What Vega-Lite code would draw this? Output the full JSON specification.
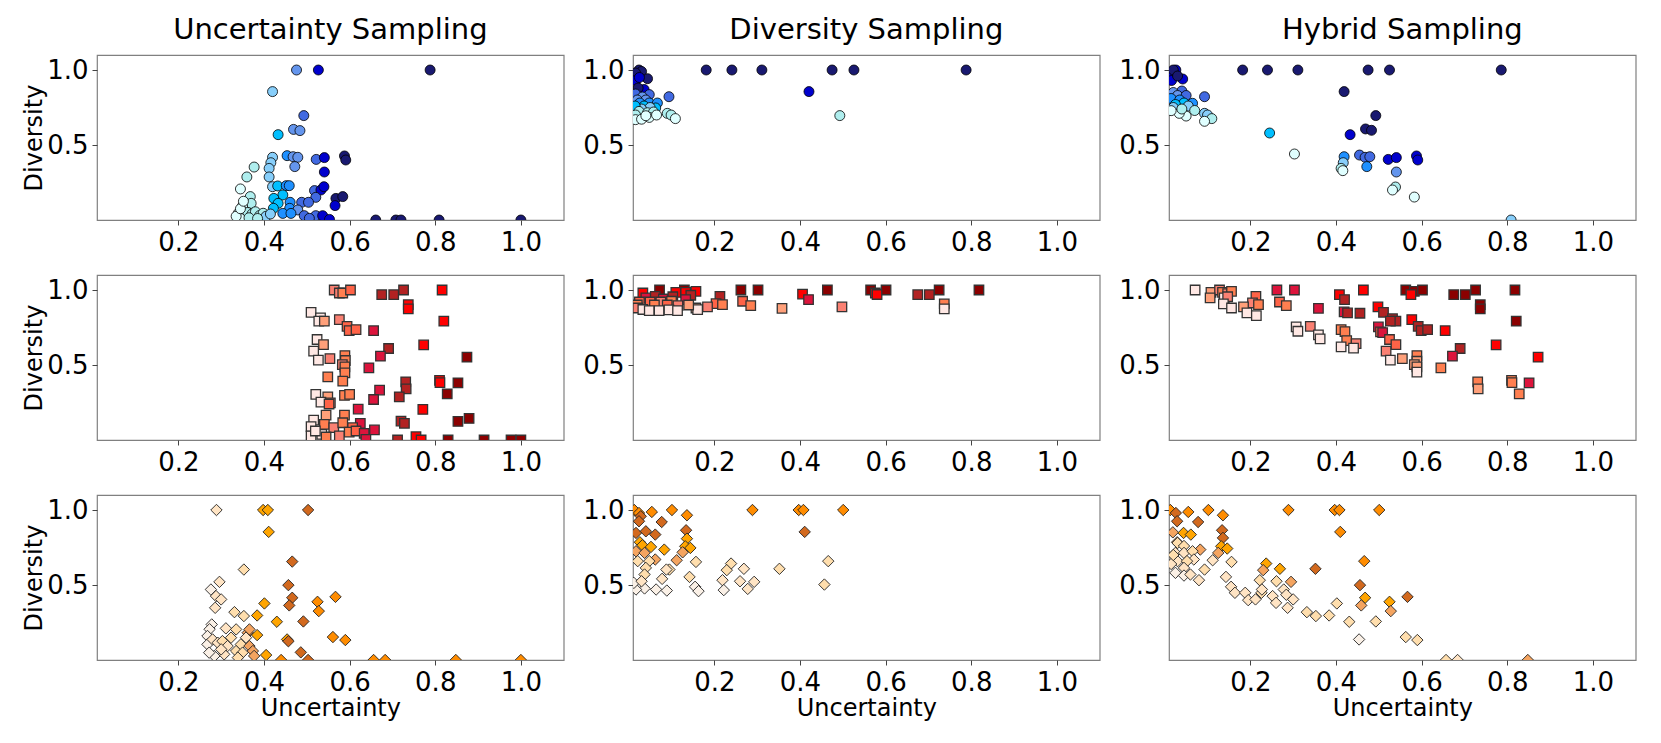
{
  "$schema": "https://vega.github.io/schema/vega-lite/v6.json",
  "padding": {"left": 22, "top": 15, "right": 5, "bottom": 5},
  "background": "white",
  "config": {
    "font": "DejaVu Sans",
    "view": {"stroke": "#808080", "strokeWidth": 1.2},
    "axis": {"grid": false, "domain": false, "labelFont": "DejaVu Sans", "labelFontSize": 26, "labelColor": "#000", "tickColor": "#444", "tickSize": 5, "labelPadding": 4, "titleFont": "DejaVu Sans", "titleFontSize": 24, "titleFontWeight": "normal", "titleColor": "#000", "labelFlush": false},
    "axisX": {"titlePadding": 1},
    "axisY": {"titlePadding": 0},
    "title": {"font": "DejaVu Sans", "fontSize": 29, "fontWeight": "normal", "color": "#000", "anchor": "middle", "offset": 10, "baseline": "alphabetic"}
  },
  "datasets": {
    "b_u": [
      {"u":0.476,"v":1.0,"k":5},{"u":0.527,"v":1.0,"k":7},{"u":0.788,"v":1.0,"k":8},{"u":0.420,"v":0.856,"k":2},
      {"u":0.493,"v":0.696,"k":6},{"u":0.469,"v":0.604,"k":5},{"u":0.484,"v":0.596,"k":5},{"u":0.433,"v":0.569,"k":3},
      {"u":0.420,"v":0.418,"k":2},{"u":0.454,"v":0.429,"k":4},{"u":0.468,"v":0.422,"k":5},{"u":0.479,"v":0.418,"k":5},
      {"u":0.522,"v":0.404,"k":6},{"u":0.541,"v":0.416,"k":7},{"u":0.588,"v":0.427,"k":8},{"u":0.591,"v":0.400,"k":8},
      {"u":0.416,"v":0.382,"k":2},{"u":0.472,"v":0.356,"k":5},{"u":0.377,"v":0.353,"k":1},{"u":0.412,"v":0.344,"k":2},
      {"u":0.541,"v":0.320,"k":7},{"u":0.360,"v":0.287,"k":1},{"u":0.412,"v":0.287,"k":2},{"u":0.345,"v":0.207,"k":0},
      {"u":0.420,"v":0.222,"k":2},{"u":0.432,"v":0.227,"k":3},{"u":0.452,"v":0.229,"k":4},{"u":0.459,"v":0.229,"k":4},
      {"u":0.518,"v":0.196,"k":6},{"u":0.533,"v":0.200,"k":7},{"u":0.540,"v":0.222,"k":7},{"u":0.444,"v":0.167,"k":3},
      {"u":0.423,"v":0.144,"k":3},{"u":0.368,"v":0.156,"k":1},{"u":0.521,"v":0.151,"k":6},{"u":0.568,"v":0.144,"k":8},
      {"u":0.584,"v":0.156,"k":8},{"u":0.370,"v":0.111,"k":1},{"u":0.350,"v":0.093,"k":0},{"u":0.461,"v":0.118,"k":4},
      {"u":0.488,"v":0.118,"k":6},{"u":0.504,"v":0.118,"k":6},{"u":0.433,"v":0.111,"k":3},{"u":0.566,"v":0.096,"k":7},
      {"u":0.422,"v":0.078,"k":3},{"u":0.460,"v":0.078,"k":4},{"u":0.479,"v":0.067,"k":5},{"u":0.444,"v":0.044,"k":4},
      {"u":0.463,"v":0.044,"k":4},{"u":0.494,"v":0.029,"k":6},{"u":0.521,"v":0.029,"k":6},{"u":0.537,"v":0.029,"k":7},
      {"u":0.506,"v":0.011,"k":6},{"u":0.553,"v":0.004,"k":7},{"u":0.661,"v":0.0,"k":8},{"u":0.708,"v":0.0,"k":8},
      {"u":0.720,"v":0.0,"k":8},{"u":0.809,"v":0.0,"k":8},{"u":1.0,"v":0.0,"k":8},
      {"u":0.340,"v":0.045,"k":0},{"u":0.348,"v":0.060,"k":0},{"u":0.355,"v":0.030,"k":0},{"u":0.362,"v":0.050,"k":1},
      {"u":0.372,"v":0.040,"k":1},{"u":0.380,"v":0.055,"k":1},{"u":0.390,"v":0.030,"k":1},{"u":0.398,"v":0.045,"k":1},
      {"u":0.405,"v":0.025,"k":2},{"u":0.345,"v":0.010,"k":0},{"u":0.365,"v":0.015,"k":1},{"u":0.385,"v":0.010,"k":1},
      {"u":0.335,"v":0.025,"k":0},{"u":0.415,"v":0.040,"k":2},{"u":0.345,"v":0.075,"k":0},{"u":0.352,"v":0.125,"k":0}
    ],
    "b_d": [
      {"u":0.181,"v":1.0,"k":8},{"u":0.241,"v":1.0,"k":8},{"u":0.311,"v":1.0,"k":8},{"u":0.475,"v":1.0,"k":8},
      {"u":0.526,"v":1.0,"k":8},{"u":0.788,"v":1.0,"k":8},{"u":0.421,"v":0.856,"k":7},{"u":0.493,"v":0.696,"k":1},
      {"u":0.024,"v":1.0,"k":8},{"u":0.030,"v":0.99,"k":8},{"u":0.016,"v":0.98,"k":8},{"u":0.044,"v":0.942,"k":8},
      {"u":0.016,"v":0.93,"k":7},{"u":0.025,"v":0.95,"k":7},{"u":0.036,"v":0.87,"k":7},{"u":0.022,"v":0.88,"k":8},
      {"u":0.048,"v":0.836,"k":6},{"u":0.094,"v":0.822,"k":6},{"u":0.016,"v":0.84,"k":6},{"u":0.032,"v":0.82,"k":5},
      {"u":0.020,"v":0.80,"k":5},{"u":0.040,"v":0.80,"k":5},{"u":0.026,"v":0.78,"k":4},{"u":0.048,"v":0.78,"k":4},
      {"u":0.067,"v":0.78,"k":4},{"u":0.063,"v":0.747,"k":3},{"u":0.036,"v":0.76,"k":3},{"u":0.050,"v":0.75,"k":2},
      {"u":0.030,"v":0.74,"k":2},{"u":0.015,"v":0.76,"k":3},{"u":0.024,"v":0.724,"k":1},{"u":0.044,"v":0.715,"k":1},
      {"u":0.058,"v":0.72,"k":1},{"u":0.016,"v":0.70,"k":1},{"u":0.090,"v":0.711,"k":1},{"u":0.099,"v":0.700,"k":1},
      {"u":0.016,"v":0.669,"k":0},{"u":0.030,"v":0.672,"k":0},{"u":0.048,"v":0.684,"k":0},{"u":0.109,"v":0.676,"k":0},
      {"u":0.065,"v":0.70,"k":0},{"u":0.040,"v":0.695,"k":0}
    ],
    "b_h": [
      {"u":0.182,"v":1.0,"k":8},{"u":0.240,"v":1.0,"k":8},{"u":0.311,"v":1.0,"k":8},{"u":0.475,"v":1.0,"k":8},
      {"u":0.525,"v":1.0,"k":8},{"u":0.786,"v":1.0,"k":8},{"u":0.419,"v":0.856,"k":8},{"u":0.493,"v":0.696,"k":8},
      {"u":0.469,"v":0.607,"k":8},{"u":0.483,"v":0.598,"k":8},{"u":0.433,"v":0.569,"k":7},{"u":0.245,"v":0.580,"k":3},
      {"u":0.303,"v":0.440,"k":0},{"u":0.419,"v":0.422,"k":4},{"u":0.455,"v":0.433,"k":6},{"u":0.468,"v":0.418,"k":6},
      {"u":0.479,"v":0.422,"k":6},{"u":0.522,"v":0.404,"k":7},{"u":0.541,"v":0.416,"k":7},{"u":0.588,"v":0.427,"k":7},
      {"u":0.591,"v":0.400,"k":7},{"u":0.417,"v":0.382,"k":2},{"u":0.472,"v":0.356,"k":4},{"u":0.412,"v":0.344,"k":1},
      {"u":0.416,"v":0.329,"k":0},{"u":0.541,"v":0.320,"k":5},{"u":0.539,"v":0.220,"k":1},{"u":0.532,"v":0.200,"k":0},
      {"u":0.583,"v":0.153,"k":0},{"u":0.809,"v":0.0,"k":2},
      {"u":0.026,"v":1.0,"k":7},{"u":0.018,"v":0.978,"k":7},{"u":0.042,"v":0.94,"k":7},{"u":0.016,"v":0.93,"k":7},
      {"u":0.020,"v":1.0,"k":8},{"u":0.030,"v":0.96,"k":8},{"u":0.093,"v":0.822,"k":6},{"u":0.040,"v":0.86,"k":6},
      {"u":0.020,"v":0.85,"k":5},{"u":0.030,"v":0.83,"k":5},{"u":0.050,"v":0.83,"k":6},{"u":0.015,"v":0.81,"k":4},
      {"u":0.035,"v":0.80,"k":4},{"u":0.065,"v":0.778,"k":4},{"u":0.045,"v":0.78,"k":3},{"u":0.025,"v":0.77,"k":3},
      {"u":0.055,"v":0.76,"k":2},{"u":0.020,"v":0.75,"k":2},{"u":0.093,"v":0.711,"k":2},{"u":0.100,"v":0.700,"k":2},
      {"u":0.110,"v":0.676,"k":1},{"u":0.093,"v":0.658,"k":0},{"u":0.050,"v":0.693,"k":0},{"u":0.034,"v":0.711,"k":0},
      {"u":0.015,"v":0.729,"k":0},{"u":0.070,"v":0.73,"k":1},{"u":0.040,"v":0.74,"k":1}
    ],
    "r_u": [
      {"u":0.564,"v":1.0,"k":2},{"u":0.576,"v":0.98,"k":2},{"u":0.584,"v":0.98,"k":3},{"u":0.602,"v":1.0,"k":4},
      {"u":0.675,"v":0.969,"k":7},{"u":0.703,"v":0.969,"k":7},{"u":0.726,"v":1.0,"k":7},{"u":0.816,"v":1.0,"k":6},
      {"u":0.737,"v":0.902,"k":6},{"u":0.737,"v":0.874,"k":6},{"u":0.820,"v":0.792,"k":6},{"u":0.510,"v":0.851,"k":0},
      {"u":0.532,"v":0.814,"k":0},{"u":0.528,"v":0.792,"k":0},{"u":0.541,"v":0.792,"k":1},{"u":0.576,"v":0.803,"k":2},
      {"u":0.594,"v":0.758,"k":4},{"u":0.599,"v":0.729,"k":4},{"u":0.615,"v":0.736,"k":4},{"u":0.656,"v":0.729,"k":5},
      {"u":0.524,"v":0.670,"k":0},{"u":0.539,"v":0.636,"k":1},{"u":0.516,"v":0.592,"k":0},{"u":0.527,"v":0.532,"k":0},
      {"u":0.554,"v":0.543,"k":2},{"u":0.589,"v":0.563,"k":3},{"u":0.590,"v":0.530,"k":3},{"u":0.583,"v":0.503,"k":2},
      {"u":0.589,"v":0.488,"k":3},{"u":0.589,"v":0.448,"k":3},{"u":0.549,"v":0.421,"k":3},{"u":0.584,"v":0.392,"k":3},
      {"u":0.691,"v":0.610,"k":7},{"u":0.672,"v":0.559,"k":5},{"u":0.645,"v":0.481,"k":5},{"u":0.773,"v":0.634,"k":6},
      {"u":0.874,"v":0.552,"k":8},{"u":0.731,"v":0.388,"k":7},{"u":0.732,"v":0.341,"k":7},{"u":0.810,"v":0.397,"k":6},
      {"u":0.811,"v":0.383,"k":6},{"u":0.853,"v":0.381,"k":8},{"u":0.828,"v":0.308,"k":8},{"u":0.670,"v":0.333,"k":5},
      {"u":0.716,"v":0.288,"k":7},{"u":0.656,"v":0.270,"k":5},{"u":0.620,"v":0.206,"k":5},{"u":0.771,"v":0.204,"k":6},
      {"u":0.521,"v":0.304,"k":0},{"u":0.549,"v":0.288,"k":1},{"u":0.533,"v":0.253,"k":0},{"u":0.555,"v":0.248,"k":2},
      {"u":0.552,"v":0.240,"k":4},{"u":0.588,"v":0.297,"k":3},{"u":0.600,"v":0.304,"k":3},{"u":0.545,"v":0.166,"k":1},
      {"u":0.588,"v":0.166,"k":3},{"u":0.720,"v":0.126,"k":7},{"u":0.728,"v":0.111,"k":7},{"u":0.625,"v":0.111,"k":5},
      {"u":0.658,"v":0.067,"k":5},{"u":0.853,"v":0.124,"k":8},{"u":0.879,"v":0.144,"k":8},{"u":0.516,"v":0.133,"k":0},
      {"u":0.510,"v":0.089,"k":0},{"u":0.541,"v":0.104,"k":3},{"u":0.563,"v":0.082,"k":2},{"u":0.584,"v":0.115,"k":3},
      {"u":0.607,"v":0.082,"k":4},{"u":0.599,"v":0.053,"k":3},{"u":0.615,"v":0.060,"k":4},{"u":0.634,"v":0.044,"k":5},
      {"u":0.638,"v":0.004,"k":5},{"u":0.576,"v":0.027,"k":2},{"u":0.535,"v":0.038,"k":0},{"u":0.510,"v":0.027,"k":0},
      {"u":0.545,"v":0.020,"k":3},{"u":0.520,"v":0.060,"k":0},{"u":0.755,"v":0.022,"k":6},{"u":0.767,"v":0.0,"k":6},
      {"u":0.712,"v":0.0,"k":7},{"u":0.830,"v":0.0,"k":8},{"u":0.914,"v":0.0,"k":8},{"u":0.977,"v":0.0,"k":8},
      {"u":1.0,"v":0.0,"k":8}
    ],
    "r_d": [
      {"u":0.072,"v":1.0,"k":8},{"u":0.262,"v":1.0,"k":8},{"u":0.302,"v":1.0,"k":8},{"u":0.464,"v":1.0,"k":8},
      {"u":0.565,"v":1.0,"k":8},{"u":0.601,"v":1.0,"k":8},{"u":0.725,"v":1.0,"k":8},{"u":0.818,"v":1.0,"k":8},
      {"u":0.675,"v":0.969,"k":7},{"u":0.702,"v":0.969,"k":7},{"u":0.576,"v":0.980,"k":6},{"u":0.580,"v":0.970,"k":6},
      {"u":0.406,"v":0.973,"k":6},{"u":0.420,"v":0.936,"k":5},{"u":0.213,"v":0.958,"k":7},{"u":0.204,"v":0.909,"k":4},
      {"u":0.219,"v":0.902,"k":3},{"u":0.266,"v":0.925,"k":4},{"u":0.285,"v":0.896,"k":3},{"u":0.358,"v":0.878,"k":1},
      {"u":0.498,"v":0.887,"k":2},{"u":0.737,"v":0.907,"k":3},{"u":0.737,"v":0.874,"k":0},{"u":0.184,"v":0.887,"k":2},
      {"u":0.157,"v":0.880,"k":1},{"u":0.161,"v":0.869,"k":0},{"u":0.033,"v":0.980,"k":6},{"u":0.130,"v":1.0,"k":8},
      {"u":0.110,"v":0.984,"k":6},{"u":0.133,"v":0.984,"k":6},{"u":0.157,"v":0.991,"k":6},{"u":0.145,"v":0.965,"k":7},
      {"u":0.040,"v":0.947,"k":5},{"u":0.062,"v":0.958,"k":7},{"u":0.081,"v":0.940,"k":5},{"u":0.103,"v":0.955,"k":7},
      {"u":0.133,"v":0.936,"k":5},{"u":0.025,"v":0.920,"k":4},{"u":0.050,"v":0.920,"k":4},{"u":0.075,"v":0.920,"k":2},
      {"u":0.100,"v":0.925,"k":3},{"u":0.115,"v":0.896,"k":2},{"u":0.140,"v":0.900,"k":1},{"u":0.060,"v":0.900,"k":3},
      {"u":0.090,"v":0.900,"k":4},{"u":0.020,"v":0.900,"k":3},{"u":0.021,"v":0.880,"k":2},{"u":0.033,"v":0.870,"k":0},
      {"u":0.048,"v":0.862,"k":0},{"u":0.071,"v":0.862,"k":0},{"u":0.094,"v":0.868,"k":0},{"u":0.114,"v":0.862,"k":0}
    ],
    "r_h": [
      {"u":0.071,"v":1.0,"k":0},{"u":0.108,"v":0.984,"k":1},{"u":0.128,"v":1.0,"k":2},{"u":0.135,"v":0.984,"k":3},
      {"u":0.147,"v":0.976,"k":2},{"u":0.156,"v":0.991,"k":3},{"u":0.106,"v":0.947,"k":1},{"u":0.139,"v":0.947,"k":0},
      {"u":0.147,"v":0.955,"k":2},{"u":0.213,"v":0.958,"k":4},{"u":0.205,"v":0.914,"k":2},{"u":0.219,"v":0.902,"k":3},
      {"u":0.137,"v":0.907,"k":0},{"u":0.156,"v":0.880,"k":0},{"u":0.184,"v":0.887,"k":1},{"u":0.192,"v":0.847,"k":0},
      {"u":0.214,"v":0.829,"k":0},{"u":0.262,"v":1.0,"k":5},{"u":0.303,"v":1.0,"k":5},{"u":0.268,"v":0.920,"k":4},
      {"u":0.284,"v":0.896,"k":3},{"u":0.359,"v":0.878,"k":5},{"u":0.408,"v":0.969,"k":6},{"u":0.420,"v":0.936,"k":7},
      {"u":0.464,"v":1.0,"k":6},{"u":0.419,"v":0.854,"k":5},{"u":0.427,"v":0.847,"k":7},{"u":0.456,"v":0.845,"k":7},
      {"u":0.498,"v":0.887,"k":6},{"u":0.511,"v":0.851,"k":7},{"u":0.532,"v":0.809,"k":7},{"u":0.540,"v":0.792,"k":7},
      {"u":0.527,"v":0.792,"k":7},{"u":0.563,"v":1.0,"k":8},{"u":0.583,"v":0.991,"k":8},{"u":0.575,"v":0.969,"k":6},
      {"u":0.602,"v":1.0,"k":8},{"u":0.675,"v":0.969,"k":8},{"u":0.702,"v":0.969,"k":8},{"u":0.726,"v":1.0,"k":8},
      {"u":0.818,"v":1.0,"k":8},{"u":0.737,"v":0.902,"k":8},{"u":0.737,"v":0.874,"k":8},{"u":0.821,"v":0.792,"k":8},
      {"u":0.577,"v":0.803,"k":6},{"u":0.592,"v":0.758,"k":7},{"u":0.599,"v":0.729,"k":7},{"u":0.614,"v":0.736,"k":7},
      {"u":0.655,"v":0.729,"k":6},{"u":0.690,"v":0.610,"k":7},{"u":0.672,"v":0.559,"k":5},{"u":0.774,"v":0.634,"k":6},
      {"u":0.872,"v":0.552,"k":6},{"u":0.810,"v":0.397,"k":3},{"u":0.811,"v":0.383,"k":3},{"u":0.851,"v":0.381,"k":5},
      {"u":0.828,"v":0.308,"k":3},{"u":0.731,"v":0.388,"k":3},{"u":0.732,"v":0.341,"k":1},{"u":0.645,"v":0.481,"k":3},
      {"u":0.499,"v":0.754,"k":5},{"u":0.504,"v":0.721,"k":4},{"u":0.509,"v":0.716,"k":5},{"u":0.525,"v":0.670,"k":4},
      {"u":0.540,"v":0.636,"k":4},{"u":0.517,"v":0.592,"k":2},{"u":0.527,"v":0.532,"k":0},{"u":0.555,"v":0.543,"k":1},
      {"u":0.589,"v":0.563,"k":3},{"u":0.589,"v":0.525,"k":1},{"u":0.583,"v":0.503,"k":1},{"u":0.589,"v":0.488,"k":1},
      {"u":0.589,"v":0.452,"k":0},{"u":0.412,"v":0.736,"k":3},{"u":0.421,"v":0.723,"k":3},{"u":0.425,"v":0.663,"k":3},
      {"u":0.447,"v":0.643,"k":2},{"u":0.441,"v":0.612,"k":0},{"u":0.412,"v":0.621,"k":0},{"u":0.307,"v":0.754,"k":0},
      {"u":0.311,"v":0.725,"k":0},{"u":0.340,"v":0.758,"k":2},{"u":0.359,"v":0.701,"k":0},{"u":0.363,"v":0.674,"k":0}
    ],
    "o_u": [
      {"u":0.289,"v":1.0,"k":1},{"u":0.398,"v":1.0,"k":5},{"u":0.409,"v":1.0,"k":5},{"u":0.411,"v":0.854,"k":5},
      {"u":0.503,"v":1.0,"k":7},{"u":0.466,"v":0.656,"k":7},{"u":0.353,"v":0.603,"k":2},{"u":0.296,"v":0.521,"k":1},
      {"u":0.276,"v":0.470,"k":0},{"u":0.288,"v":0.426,"k":1},{"u":0.300,"v":0.404,"k":1},{"u":0.286,"v":0.348,"k":1},
      {"u":0.457,"v":0.499,"k":7},{"u":0.466,"v":0.415,"k":7},{"u":0.459,"v":0.364,"k":7},{"u":0.401,"v":0.377,"k":5},
      {"u":0.525,"v":0.388,"k":6},{"u":0.528,"v":0.326,"k":6},{"u":0.567,"v":0.421,"k":6},{"u":0.331,"v":0.319,"k":2},
      {"u":0.353,"v":0.293,"k":2},{"u":0.384,"v":0.297,"k":5},{"u":0.430,"v":0.255,"k":5},{"u":0.492,"v":0.257,"k":7},
      {"u":0.278,"v":0.237,"k":0},{"u":0.273,"v":0.205,"k":0},{"u":0.311,"v":0.211,"k":1},{"u":0.335,"v":0.204,"k":2},
      {"u":0.362,"v":0.182,"k":3},{"u":0.384,"v":0.166,"k":5},{"u":0.454,"v":0.137,"k":5},{"u":0.457,"v":0.125,"k":7},
      {"u":0.561,"v":0.153,"k":6},{"u":0.590,"v":0.133,"k":6},{"u":0.405,"v":0.033,"k":5},{"u":0.486,"v":0.051,"k":7},
      {"u":0.440,"v":0.0,"k":6},{"u":0.503,"v":0.0,"k":7},{"u":0.656,"v":0.0,"k":6},{"u":0.683,"v":0.0,"k":6},
      {"u":0.848,"v":0.0,"k":6},{"u":1.0,"v":0.0,"k":6},
      {"u":0.268,"v":0.160,"k":0},{"u":0.268,"v":0.104,"k":0},{"u":0.280,"v":0.137,"k":1},{"u":0.292,"v":0.115,"k":1},
      {"u":0.303,"v":0.126,"k":2},{"u":0.315,"v":0.093,"k":1},{"u":0.323,"v":0.149,"k":2},{"u":0.335,"v":0.060,"k":2},
      {"u":0.346,"v":0.104,"k":2},{"u":0.358,"v":0.149,"k":1},{"u":0.366,"v":0.093,"k":3},{"u":0.374,"v":0.060,"k":3},
      {"u":0.377,"v":0.027,"k":3},{"u":0.350,"v":0.049,"k":2},{"u":0.307,"v":0.038,"k":1},{"u":0.284,"v":0.027,"k":0},
      {"u":0.272,"v":0.049,"k":0},{"u":0.339,"v":0.016,"k":2},{"u":0.366,"v":0.204,"k":3},{"u":0.300,"v":0.071,"k":1}
    ],
    "o_d": [
      {"u":0.101,"v":1.0,"k":6},{"u":0.289,"v":1.0,"k":6},{"u":0.397,"v":1.0,"k":6},{"u":0.408,"v":1.0,"k":6},
      {"u":0.501,"v":1.0,"k":6},{"u":0.411,"v":0.854,"k":7},{"u":0.054,"v":0.987,"k":6},{"u":0.136,"v":0.965,"k":6},
      {"u":0.013,"v":1.0,"k":6},{"u":0.024,"v":0.98,"k":6},{"u":0.028,"v":0.958,"k":7},{"u":0.024,"v":0.925,"k":7},
      {"u":0.077,"v":0.920,"k":7},{"u":0.017,"v":0.847,"k":7},{"u":0.040,"v":0.858,"k":7},{"u":0.062,"v":0.836,"k":7},
      {"u":0.134,"v":0.865,"k":7},{"u":0.136,"v":0.809,"k":5},{"u":0.026,"v":0.785,"k":5},{"u":0.032,"v":0.765,"k":5},
      {"u":0.052,"v":0.754,"k":5},{"u":0.083,"v":0.736,"k":5},{"u":0.132,"v":0.758,"k":5},{"u":0.144,"v":0.747,"k":5},
      {"u":0.017,"v":0.725,"k":3},{"u":0.037,"v":0.714,"k":3},{"u":0.126,"v":0.718,"k":3},{"u":0.112,"v":0.665,"k":3},
      {"u":0.062,"v":0.670,"k":3},{"u":0.021,"v":0.659,"k":2},{"u":0.048,"v":0.659,"k":2},{"u":0.157,"v":0.654,"k":2},
      {"u":0.239,"v":0.643,"k":2},{"u":0.229,"v":0.599,"k":2},{"u":0.269,"v":0.608,"k":1},{"u":0.352,"v":0.608,"k":2},
      {"u":0.466,"v":0.659,"k":2},{"u":0.457,"v":0.503,"k":2},{"u":0.095,"v":0.603,"k":2},{"u":0.088,"v":0.603,"k":1},
      {"u":0.040,"v":0.614,"k":2},{"u":0.142,"v":0.554,"k":2},{"u":0.078,"v":0.541,"k":1},{"u":0.037,"v":0.570,"k":2},
      {"u":0.219,"v":0.532,"k":1},{"u":0.260,"v":0.525,"k":1},{"u":0.293,"v":0.521,"k":1},{"u":0.278,"v":0.474,"k":1},
      {"u":0.222,"v":0.466,"k":0},{"u":0.155,"v":0.488,"k":0},{"u":0.163,"v":0.459,"k":0},{"u":0.064,"v":0.470,"k":0},
      {"u":0.089,"v":0.463,"k":0},{"u":0.037,"v":0.477,"k":0},{"u":0.017,"v":0.470,"k":0},{"u":0.012,"v":0.514,"k":0},
      {"u":0.030,"v":0.525,"k":1}
    ],
    "o_h": [
      {"u":0.102,"v":1.0,"k":6},{"u":0.289,"v":1.0,"k":6},{"u":0.397,"v":1.0,"k":6},{"u":0.408,"v":1.0,"k":6},
      {"u":0.501,"v":1.0,"k":6},{"u":0.410,"v":0.854,"k":6},{"u":0.055,"v":0.987,"k":6},{"u":0.136,"v":0.965,"k":6},
      {"u":0.013,"v":1.0,"k":6},{"u":0.026,"v":0.98,"k":7},{"u":0.029,"v":0.925,"k":7},{"u":0.078,"v":0.920,"k":7},
      {"u":0.134,"v":0.865,"k":7},{"u":0.136,"v":0.814,"k":7},{"u":0.019,"v":0.851,"k":3},{"u":0.044,"v":0.847,"k":5},
      {"u":0.061,"v":0.836,"k":5},{"u":0.029,"v":0.785,"k":3},{"u":0.083,"v":0.736,"k":3},{"u":0.132,"v":0.758,"k":5},
      {"u":0.146,"v":0.743,"k":5},{"u":0.125,"v":0.714,"k":3},{"u":0.112,"v":0.665,"k":1},{"u":0.156,"v":0.654,"k":2},
      {"u":0.237,"v":0.643,"k":5},{"u":0.230,"v":0.599,"k":3},{"u":0.269,"v":0.608,"k":5},{"u":0.352,"v":0.608,"k":7},
      {"u":0.466,"v":0.659,"k":6},{"u":0.456,"v":0.499,"k":7},{"u":0.468,"v":0.415,"k":5},{"u":0.459,"v":0.364,"k":3},
      {"u":0.525,"v":0.388,"k":5},{"u":0.528,"v":0.326,"k":3},{"u":0.567,"v":0.421,"k":7},{"u":0.295,"v":0.521,"k":3},
      {"u":0.222,"v":0.532,"k":2},{"u":0.261,"v":0.525,"k":2},{"u":0.093,"v":0.603,"k":2},{"u":0.080,"v":0.532,"k":1},
      {"u":0.143,"v":0.554,"k":1},{"u":0.155,"v":0.488,"k":1},{"u":0.164,"v":0.448,"k":1},{"u":0.188,"v":0.448,"k":1},
      {"u":0.195,"v":0.399,"k":1},{"u":0.212,"v":0.404,"k":1},{"u":0.226,"v":0.448,"k":2},{"u":0.227,"v":0.470,"k":1},
      {"u":0.252,"v":0.426,"k":1},{"u":0.260,"v":0.381,"k":1},{"u":0.278,"v":0.470,"k":1},{"u":0.284,"v":0.435,"k":1},
      {"u":0.300,"v":0.404,"k":1},{"u":0.287,"v":0.348,"k":1},{"u":0.332,"v":0.319,"k":2},{"u":0.353,"v":0.293,"k":2},
      {"u":0.384,"v":0.297,"k":2},{"u":0.402,"v":0.377,"k":2},{"u":0.431,"v":0.255,"k":2},{"u":0.493,"v":0.257,"k":2},
      {"u":0.454,"v":0.137,"k":0},{"u":0.563,"v":0.153,"k":2},{"u":0.590,"v":0.133,"k":2},{"u":0.657,"v":0.0,"k":2},
      {"u":0.684,"v":0.0,"k":1},{"u":0.848,"v":0.0,"k":3},
      {"u":0.030,"v":0.780,"k":2},{"u":0.045,"v":0.760,"k":2},{"u":0.025,"v":0.714,"k":1},{"u":0.045,"v":0.714,"k":1},
      {"u":0.065,"v":0.725,"k":2},{"u":0.068,"v":0.670,"k":1},{"u":0.030,"v":0.659,"k":1},{"u":0.052,"v":0.659,"k":2},
      {"u":0.045,"v":0.614,"k":1},{"u":0.025,"v":0.581,"k":0},{"u":0.045,"v":0.563,"k":0},{"u":0.060,"v":0.570,"k":1},
      {"u":0.015,"v":0.640,"k":1},{"u":0.020,"v":0.700,"k":2}
    ]
  },
  "concat": [
    {
      "title": "Uncertainty Sampling", "width": 466.7, "height": 165, "data": {"name": "b_u"},
      "mark": {"type": "point", "shape": "circle", "filled": true, "size": 100, "opacity": 1, "stroke": "#000", "strokeWidth": 0.8, "clip": true},
      "encoding": {
        "x": {"field": "u", "type": "quantitative", "scale": {"domain": [0.01, 1.1], "nice": false, "zero": false}, "axis": {"values": [0.2, 0.4, 0.6, 0.8, 1.0], "format": ".1f", "title": null}},
        "y": {"field": "v", "type": "quantitative", "scale": {"domain": [0, 1.1], "nice": false}, "axis": {"values": [0.5, 1.0], "format": ".1f", "title": "Diversity"}},
        "color": {"field": "k", "type": "ordinal", "scale": {"domain": [0,1,2,3,4,5,6,7,8], "range": ["#e0ffff","#afeeee","#87cefa","#00bfff","#1e90ff","#6495ed","#4169e1","#0000cd","#191970"]}, "legend": null}
      }
    },
    {
      "title": "Diversity Sampling", "width": 466.7, "height": 165, "data": {"name": "b_d"},
      "mark": {"type": "point", "shape": "circle", "filled": true, "size": 100, "opacity": 1, "stroke": "#000", "strokeWidth": 0.8, "clip": true},
      "encoding": {
        "x": {"field": "u", "type": "quantitative", "scale": {"domain": [0.01, 1.1], "nice": false, "zero": false}, "axis": {"values": [0.2, 0.4, 0.6, 0.8, 1.0], "format": ".1f", "title": null}},
        "y": {"field": "v", "type": "quantitative", "scale": {"domain": [0, 1.1], "nice": false}, "axis": {"values": [0.5, 1.0], "format": ".1f", "title": null}},
        "color": {"field": "k", "type": "ordinal", "scale": {"domain": [0,1,2,3,4,5,6,7,8], "range": ["#e0ffff","#afeeee","#87cefa","#00bfff","#1e90ff","#6495ed","#4169e1","#0000cd","#191970"]}, "legend": null}
      }
    },
    {
      "title": "Hybrid Sampling", "width": 466.7, "height": 165, "data": {"name": "b_h"},
      "mark": {"type": "point", "shape": "circle", "filled": true, "size": 100, "opacity": 1, "stroke": "#000", "strokeWidth": 0.8, "clip": true},
      "encoding": {
        "x": {"field": "u", "type": "quantitative", "scale": {"domain": [0.01, 1.1], "nice": false, "zero": false}, "axis": {"values": [0.2, 0.4, 0.6, 0.8, 1.0], "format": ".1f", "title": null}},
        "y": {"field": "v", "type": "quantitative", "scale": {"domain": [0, 1.1], "nice": false}, "axis": {"values": [0.5, 1.0], "format": ".1f", "title": null}},
        "color": {"field": "k", "type": "ordinal", "scale": {"domain": [0,1,2,3,4,5,6,7,8], "range": ["#e0ffff","#afeeee","#87cefa","#00bfff","#1e90ff","#6495ed","#4169e1","#0000cd","#191970"]}, "legend": null}
      }
    },
    {
      "width": 466.7, "height": 165, "data": {"name": "r_u"},
      "mark": {"type": "point", "shape": "square", "filled": true, "size": 90, "opacity": 1, "stroke": "#333", "strokeWidth": 1.3, "clip": true},
      "encoding": {
        "x": {"field": "u", "type": "quantitative", "scale": {"domain": [0.01, 1.1], "nice": false, "zero": false}, "axis": {"values": [0.2, 0.4, 0.6, 0.8, 1.0], "format": ".1f", "title": null}},
        "y": {"field": "v", "type": "quantitative", "scale": {"domain": [0, 1.1], "nice": false}, "axis": {"values": [0.5, 1.0], "format": ".1f", "title": "Diversity"}},
        "color": {"field": "k", "type": "ordinal", "scale": {"domain": [0,1,2,3,4,5,6,7,8], "range": ["#ffe8e4","#ffa07a","#fa8072","#ff7f50","#ff6347","#dc143c","#ff0000","#b22222","#8b0000"]}, "legend": null}
      }
    },
    {
      "width": 466.7, "height": 165, "data": {"name": "r_d"},
      "mark": {"type": "point", "shape": "square", "filled": true, "size": 90, "opacity": 1, "stroke": "#333", "strokeWidth": 1.3, "clip": true},
      "encoding": {
        "x": {"field": "u", "type": "quantitative", "scale": {"domain": [0.01, 1.1], "nice": false, "zero": false}, "axis": {"values": [0.2, 0.4, 0.6, 0.8, 1.0], "format": ".1f", "title": null}},
        "y": {"field": "v", "type": "quantitative", "scale": {"domain": [0, 1.1], "nice": false}, "axis": {"values": [0.5, 1.0], "format": ".1f", "title": null}},
        "color": {"field": "k", "type": "ordinal", "scale": {"domain": [0,1,2,3,4,5,6,7,8], "range": ["#ffe8e4","#ffa07a","#fa8072","#ff7f50","#ff6347","#dc143c","#ff0000","#b22222","#8b0000"]}, "legend": null}
      }
    },
    {
      "width": 466.7, "height": 165, "data": {"name": "r_h"},
      "mark": {"type": "point", "shape": "square", "filled": true, "size": 90, "opacity": 1, "stroke": "#333", "strokeWidth": 1.3, "clip": true},
      "encoding": {
        "x": {"field": "u", "type": "quantitative", "scale": {"domain": [0.01, 1.1], "nice": false, "zero": false}, "axis": {"values": [0.2, 0.4, 0.6, 0.8, 1.0], "format": ".1f", "title": null}},
        "y": {"field": "v", "type": "quantitative", "scale": {"domain": [0, 1.1], "nice": false}, "axis": {"values": [0.5, 1.0], "format": ".1f", "title": null}},
        "color": {"field": "k", "type": "ordinal", "scale": {"domain": [0,1,2,3,4,5,6,7,8], "range": ["#ffe8e4","#ffa07a","#fa8072","#ff7f50","#ff6347","#dc143c","#ff0000","#b22222","#8b0000"]}, "legend": null}
      }
    },
    {
      "width": 466.7, "height": 165, "data": {"name": "o_u"},
      "mark": {"type": "point", "shape": "diamond", "filled": true, "size": 130, "opacity": 1, "stroke": "#222", "strokeWidth": 0.9, "clip": true},
      "encoding": {
        "x": {"field": "u", "type": "quantitative", "scale": {"domain": [0.01, 1.1], "nice": false, "zero": false}, "axis": {"values": [0.2, 0.4, 0.6, 0.8, 1.0], "format": ".1f", "title": "Uncertainty"}},
        "y": {"field": "v", "type": "quantitative", "scale": {"domain": [0, 1.1], "nice": false}, "axis": {"values": [0.5, 1.0], "format": ".1f", "title": "Diversity"}},
        "color": {"field": "k", "type": "ordinal", "scale": {"domain": [0,1,2,3,4,5,6,7,8], "range": ["#faf0e6","#ffe4c4","#ffdead","#f4a460","#f4a460","#ffa500","#ff8c00","#d2691e","#d2691e"]}, "legend": null}
      }
    },
    {
      "width": 466.7, "height": 165, "data": {"name": "o_d"},
      "mark": {"type": "point", "shape": "diamond", "filled": true, "size": 130, "opacity": 1, "stroke": "#222", "strokeWidth": 0.9, "clip": true},
      "encoding": {
        "x": {"field": "u", "type": "quantitative", "scale": {"domain": [0.01, 1.1], "nice": false, "zero": false}, "axis": {"values": [0.2, 0.4, 0.6, 0.8, 1.0], "format": ".1f", "title": "Uncertainty"}},
        "y": {"field": "v", "type": "quantitative", "scale": {"domain": [0, 1.1], "nice": false}, "axis": {"values": [0.5, 1.0], "format": ".1f", "title": null}},
        "color": {"field": "k", "type": "ordinal", "scale": {"domain": [0,1,2,3,4,5,6,7,8], "range": ["#faf0e6","#ffe4c4","#ffdead","#f4a460","#f4a460","#ffa500","#ff8c00","#d2691e","#d2691e"]}, "legend": null}
      }
    },
    {
      "width": 466.7, "height": 165, "data": {"name": "o_h"},
      "mark": {"type": "point", "shape": "diamond", "filled": true, "size": 130, "opacity": 1, "stroke": "#222", "strokeWidth": 0.9, "clip": true},
      "encoding": {
        "x": {"field": "u", "type": "quantitative", "scale": {"domain": [0.01, 1.1], "nice": false, "zero": false}, "axis": {"values": [0.2, 0.4, 0.6, 0.8, 1.0], "format": ".1f", "title": "Uncertainty"}},
        "y": {"field": "v", "type": "quantitative", "scale": {"domain": [0, 1.1], "nice": false}, "axis": {"values": [0.5, 1.0], "format": ".1f", "title": null}},
        "color": {"field": "k", "type": "ordinal", "scale": {"domain": [0,1,2,3,4,5,6,7,8], "range": ["#faf0e6","#ffe4c4","#ffdead","#f4a460","#f4a460","#ffa500","#ff8c00","#d2691e","#d2691e"]}, "legend": null}
      }
    }
  ],
  "columns": 3,
  "spacing": {"row": 55, "column": 69},
  "bounds": "flush",
  "resolve": {"scale": {"color": "independent"}}
}
